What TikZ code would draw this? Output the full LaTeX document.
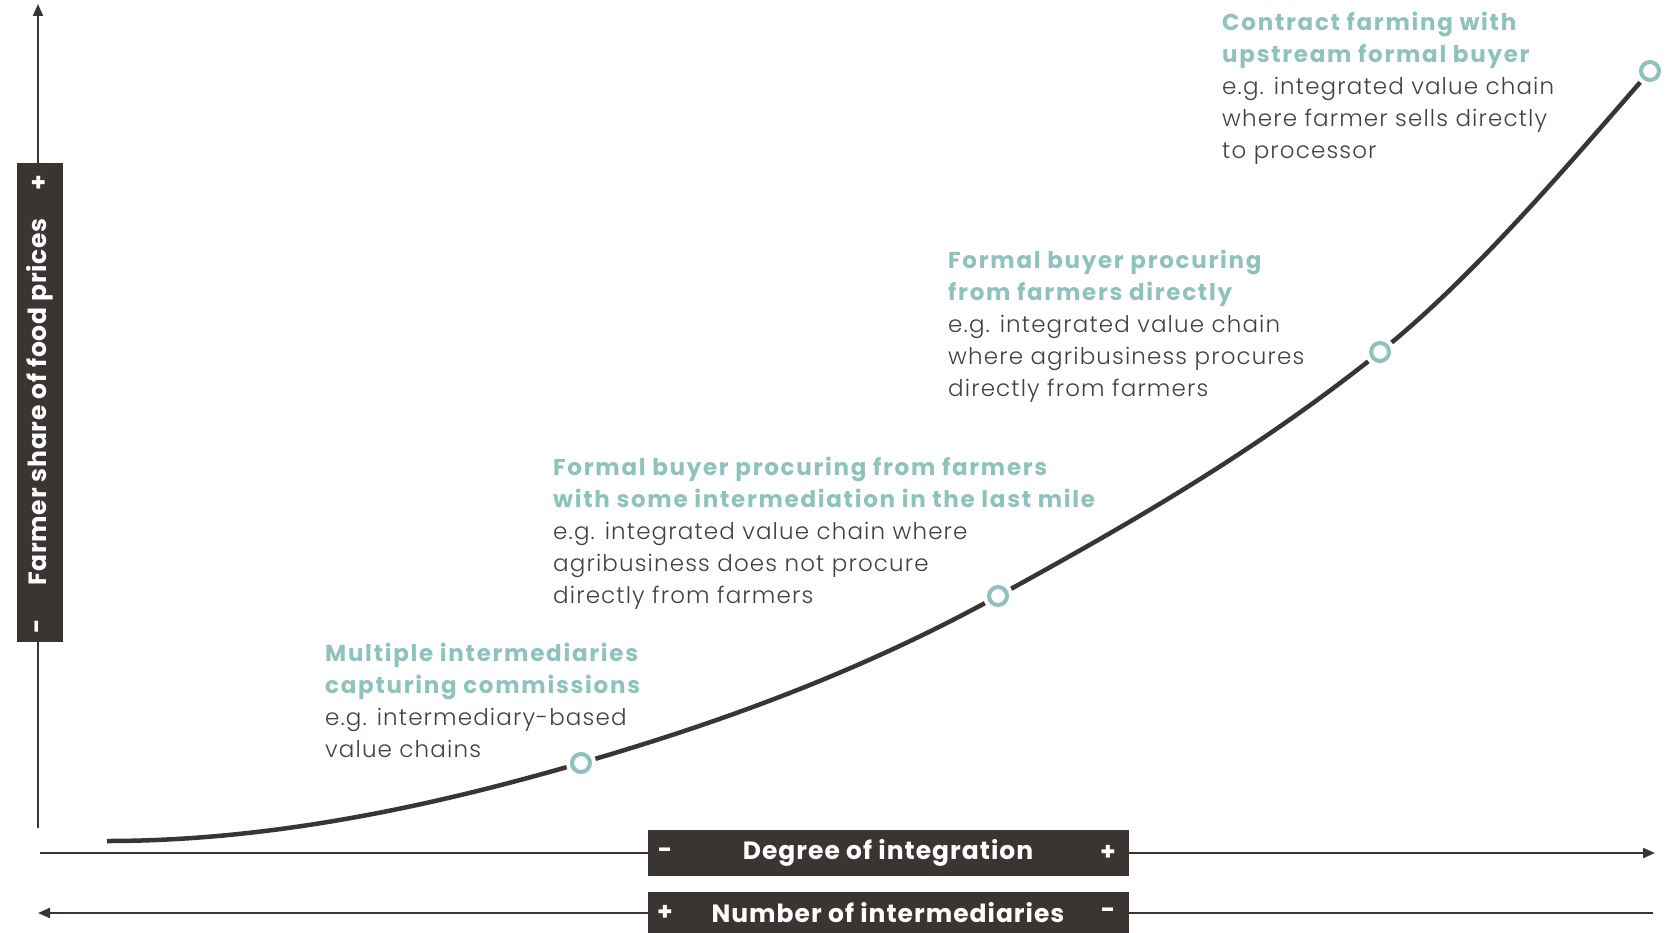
\documentclass[tikz,border=0pt]{standalone}
\usepackage{fontspec}
\setmainfont{Poppins Light}[LetterSpace=5]
\newfontfamily\ttlfont{Poppins Bold}[LetterSpace=7.5]
\newfontfamily\boxfont{Poppins Bold}[LetterSpace=4]
\newfontfamily\vfont{Poppins Bold}[LetterSpace=3]
\usetikzlibrary{arrows.meta}
\definecolor{dark}{HTML}{3A3532}
\definecolor{teal2}{HTML}{8FC1BD}
\definecolor{txt}{HTML}{45403D}
\tikzset{
  axis/.style={draw=dark, line width=2pt},
  tip/.style={-{Triangle[length=12pt,width=10pt]}},
  darkbox/.style={fill=dark, inner sep=0pt},
  boxtxt/.style={text=white, font=\fontsize{25}{28}\boxfont, inner sep=0pt},
  label/.style={anchor=north west, align=left, inner sep=0pt, text=txt,
    font=\fontsize{23}{32}\selectfont},
  ring/.style={circle, draw=teal2, line width=4pt, fill=white, minimum size=18pt, inner sep=0pt},
  halo/.style={circle, fill=white, minimum size=30pt, inner sep=0pt},
  curve/.style={draw=dark, line width=4.5pt},
}
\newcommand{\ttl}[1]{{\fontsize{23}{32}\ttlfont\color{teal2}#1}}
\begin{document}
\begin{tikzpicture}[x=1pt,y=-1pt]
\useasboundingbox (0,0) rectangle (1669,933);
% axes
\coordinate (vbot) at (38,828);
\coordinate (vtop) at (38,4);
\coordinate (h1l) at (40,853);
\coordinate (h1r) at (1655,853);
\coordinate (h2l) at (38,913);
\coordinate (h2r) at (1653,913);
\draw[axis,tip] (vbot) -- (vtop);
\draw[axis,tip] (h1l) -- (h1r);
\draw[axis,tip] (h2r) -- (h2l);
% vertical label box
\node[darkbox, minimum width=46pt, minimum height=479pt] (vbox) at (40,402.5) {};
\node[boxtxt, rotate=90, font=\fontsize{25}{28}\vfont] (vlab) at (40,402) {Farmer share of food prices};
\node[boxtxt, rotate=90] (vplus) at (40,183) {+};
\node[boxtxt, rotate=90] (vminus) at (40,626) {-};
% horizontal boxes
\node[darkbox, minimum width=481pt, minimum height=46pt] (hbox1) at (888.5,853) {};
\node[boxtxt] (hlab1) at (888,853) {Degree of integration};
\node[boxtxt] (hm1) at (665,853) {-};
\node[boxtxt] (hp1) at (1108,853) {+};
\node[darkbox, minimum width=481pt, minimum height=46pt, anchor=north] (hbox2) at (888.5,892) {};
\node[boxtxt] (hlab2) at (888,913) {Number of intermediaries};
\node[boxtxt] (hp2) at (665,913) {+};
\node[boxtxt] (hm2) at (1108,913) {-};
% curve
\coordinate (c0) at (107,841);
\coordinate (c1) at (581,763);
\coordinate (c2) at (998,596);
\coordinate (c3) at (1380,352);
\coordinate (c4) at (1650,71);
\draw[curve] (c0) .. controls (265,841) and (423,809) .. (c1)
  .. controls (720,722.7) and (859,672.5) .. (c2)
  .. controls (1125.3,526) and (1252.7,453.9) .. (c3)
  .. controls (1470,280) and (1560,174.5) .. (c4);
% points
\foreach \n/\c in {p1/c1, p2/c2, p3/c3, p4/c4} {
  \node[halo] at (\c) {};
  \node[ring] (\n) at (\c) {};
}
% labels
\node[label] (t1) at (325,643) {\ttl{Multiple intermediaries}\\\ttl{capturing commissions}\\e.g. intermediary-based\\value chains};
\node[label] (t2) at (553,457) {\ttl{Formal buyer procuring from farmers}\\\ttl{with some intermediation in the last mile}\\e.g. integrated value chain where\\agribusiness does not procure\\directly from farmers};
\node[label] (t3) at (948,250) {\ttl{Formal buyer procuring}\\\ttl{from farmers directly}\\e.g. integrated value chain\\where agribusiness procures\\directly from farmers};
\node[label] (t4) at (1222,12) {\ttl{Contract farming with}\\\ttl{upstream formal buyer}\\e.g. integrated value chain\\where farmer sells directly\\to processor};
\end{tikzpicture}
\end{document}
